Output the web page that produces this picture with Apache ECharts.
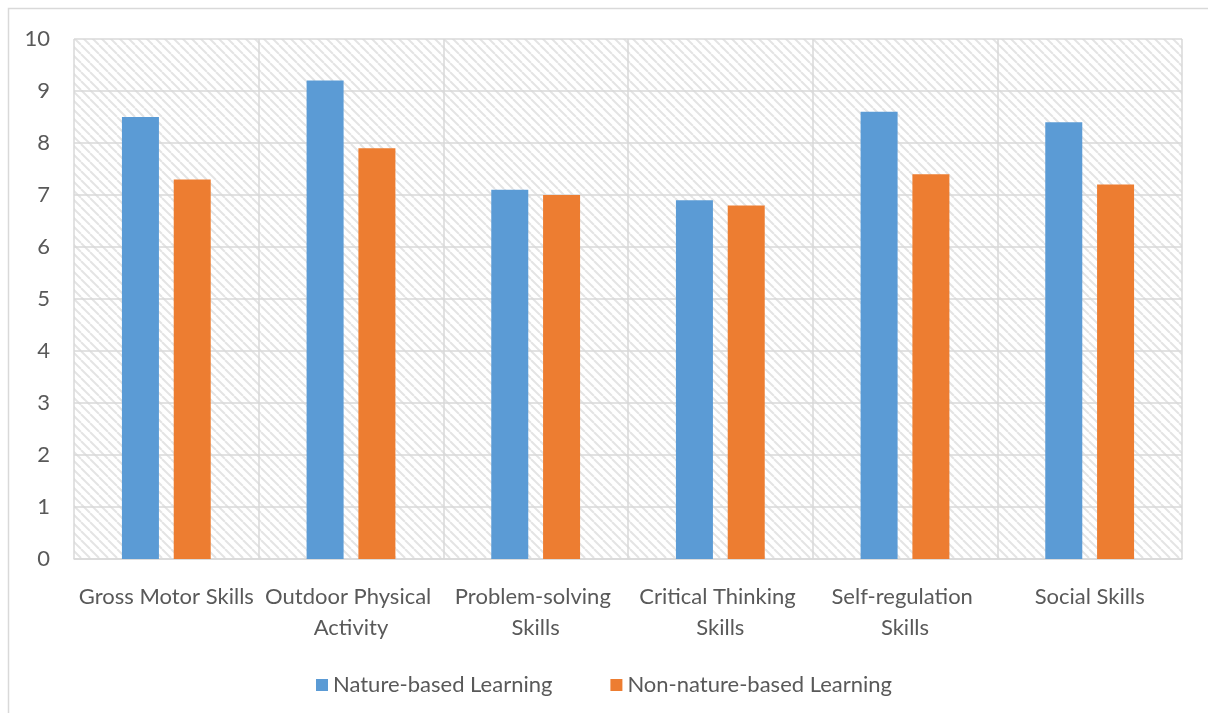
<!DOCTYPE html>
<html><head><meta charset="utf-8">
<script src="https://cdn.jsdelivr.net/npm/echarts@6/dist/echarts.min.js"></script>
<style>html,body{margin:0;padding:0;background:#fff}#c{width:1208px;height:713px}</style>
</head><body><div id="c"></div>
<script>
const categories = ['Gross Motor Skills','Outdoor Physical Activity','Problem-solving Skills','Critical Thinking Skills','Self-regulation Skills','Social Skills'];
const natureBased = [8.5, 9.2, 7.1, 6.9, 8.6, 8.4];
const nonNatureBased = [7.3, 7.9, 7.0, 6.8, 7.4, 7.2];
const seriesNames = ['Nature-based Learning','Non-nature-based Learning'];

const pc = document.createElement('canvas');
pc.width = 9; pc.height = 9;
const g = pc.getContext('2d');
g.fillStyle = '#ffffff'; g.fillRect(0,0,9,9);
g.strokeStyle = '#e4e4e4'; g.lineWidth = 2;
for (const o of [-9,0,9]) { g.beginPath(); g.moveTo(o,0); g.lineTo(o+9,9); g.stroke(); }

const font = 'Lato, "Liberation Sans", sans-serif';
const chart = echarts.init(document.getElementById('c'), null, {renderer:'canvas'});
chart.setOption({
  animation:false,
  backgroundColor:'#ffffff',
  graphic:[{type:'rect', shape:{x:8.5,y:8.5,width:1220,height:720}, style:{fill:'none', stroke:'#d9d9d9', lineWidth:1.5}, z:-1}],
  grid:{left:74,right:26,top:39,bottom:154,show:true,backgroundColor:{image:pc,repeat:'repeat'},borderWidth:0},
  legend:{top:669,left:'center',itemWidth:12,itemHeight:12,itemGap:58,icon:'rect',
    textStyle:{color:'#595959',fontSize:22,fontFamily:font},data:seriesNames},
  xAxis:{type:'category',data:categories,
    axisLine:{lineStyle:{color:'#d9d9d9',width:1.5}},axisTick:{show:false},
    splitLine:{show:true,lineStyle:{color:'#d9d9d9',width:1.5}},
    axisLabel:{color:'#595959',fontSize:22,fontFamily:font,margin:22,lineHeight:31,width:180,overflow:'break',interval:0}},
  yAxis:{type:'value',min:0,max:10,interval:1,
    axisLine:{show:false},axisTick:{show:false},
    splitLine:{lineStyle:{color:'#d9d9d9',width:1.5}},
    axisLabel:{color:'#595959',fontSize:22,fontFamily:font,margin:24}},
  series:[
    {name:seriesNames[0],type:'bar',data:natureBased,barWidth:37,barGap:'40%',itemStyle:{color:'#5B9BD5'}},
    {name:seriesNames[1],type:'bar',data:nonNatureBased,barWidth:37,itemStyle:{color:'#ED7D31'}}
  ]
});
</script></body></html>
